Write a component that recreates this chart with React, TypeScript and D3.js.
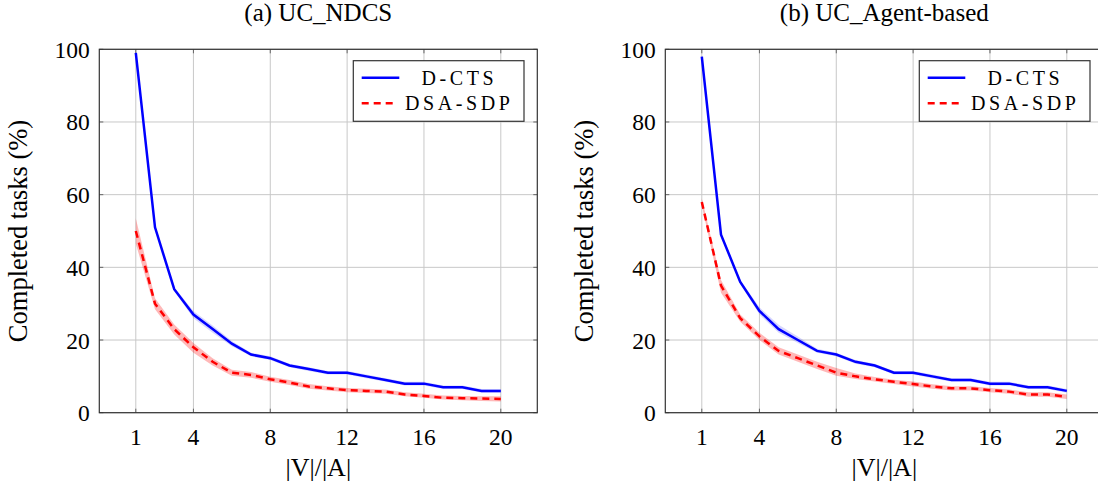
import React, {useRef, useEffect} from 'react'
import * as d3 from 'd3'

// x values |V|/|A|
const xs = [1,2,3,4,5,6,7,8,9,10,11,12,13,14,15,16,17,18,19,20]
const xTicks = [1,4,8,12,16,20]
const yTicks = [0,20,40,60,80,100]

// (a) UC_NDCS
const aDcts   = [99,51,34,27,23,19,16,15,13,12,11,11,10,9,8,8,7,7,6,6]
const aDctsLo = [99,50.5,33.5,26,22,18.3,15.5,14.5,12.5,11.5,10.5,10.5,9.5,8.5,7.5,7.5,6.5,6.5,5.5,5.5]
const aDctsHi = [99,51.5,34.5,28,24,19.7,16.5,15.5,13.5,12.5,11.5,11.5,10.5,9.5,8.5,8.5,7.5,7.5,6.5,6.5]
const aDsa    = [50,30,23,18,14,11,10.4,9.2,8.3,7.2,6.7,6.2,6,5.8,5,4.6,4.1,4,3.9,3.8]
const aDsaLo  = [46.5,28.5,21.5,16.5,13,10.2,9.6,8.5,7.6,6.6,6.1,5.6,5.4,5.2,4.5,4.1,3.6,3.4,3.2,3.1]
const aDsaHi  = [53.5,31.5,24.3,19.2,15,11.8,11.2,9.9,9,7.9,7.3,6.8,6.6,6.4,5.6,5.2,4.7,4.6,4.5,4.5]

// (b) UC_Agent-based
const bDcts   = [98,49,36,28,23,20,17,16,14,13,11,11,10,9,9,8,8,7,7,6]
const bDctsLo = [98,48.5,35.5,27,22,19.2,16.5,15.5,13.5,12.5,10.5,10.5,9.5,8.5,8.5,7.5,7.5,6.5,6.5,5.5]
const bDctsHi = [98,49.5,36.5,29,24.2,21,17.6,16.5,14.5,13.5,11.5,11.5,10.5,9.5,9.5,8.5,8.5,7.5,7.5,6.5]
const bDsa    = [58,35,26,21,17,15,13,11,10,9.2,8.5,7.9,7.2,6.7,6.7,6.2,5.8,5,5,4.4]
const bDsaLo  = [57,33,25,20,16,14,12,10.2,9.3,8.6,7.9,7.2,6.6,6.1,6.1,5.6,5.2,4.4,4.4,3.8]
const bDsaHi  = [59,36.5,27,22,18,16,14,12.3,10.8,9.8,9.1,8.6,7.8,7.3,7.3,6.8,6.4,5.6,5.6,5]

const seriesNames = ['D-CTS', 'DSA-SDP']
const panelTitles = ['(a) UC_NDCS', '(b) UC_Agent-based']

const panels = [
	{title: panelTitles[0], dcts: aDcts, dctsLo: aDctsLo, dctsHi: aDctsHi, dsa: aDsa, dsaLo: aDsaLo, dsaHi: aDsaHi},
	{title: panelTitles[1], dcts: bDcts, dctsLo: bDctsLo, dctsHi: bDctsHi, dsa: bDsa, dsaLo: bDsaLo, dsaHi: bDsaHi},
]

const layout = {width: 1098, height: 489, plotW: 438, top: 49.3, bottom: 412.7, lefts: [99.3, 665.3]}
const font = "'Liberation Serif', serif"

const Panel = ({p, left}: any) => {
	const ref = useRef<SVGGElement>(null)

	useEffect(() => {
		const g = d3.select(ref.current)
		g.selectAll('*').remove()

		const x = d3.scaleLinear().domain([-0.9, 21.9]).range([0, layout.plotW])
		const y = d3.scaleLinear().domain([0, 100]).range([layout.bottom - layout.top, 0])
		const h = layout.bottom - layout.top
		const w = layout.plotW

		// grid
		g.selectAll('.gx').data(xTicks).join('line')
			.attr('x1', d => x(d)).attr('x2', d => x(d)).attr('y1', 0).attr('y2', h)
			.attr('stroke', '#c8c8c8').attr('stroke-width', 1)
		g.selectAll('.gy').data(yTicks).join('line')
			.attr('y1', d => y(d)).attr('y2', d => y(d)).attr('x1', 0).attr('x2', w)
			.attr('stroke', '#c8c8c8').attr('stroke-width', 1)

		// ticks on all sides, pointing in
		const tk = 4
		xTicks.forEach(t => {
			g.append('line').attr('x1', x(t)).attr('x2', x(t)).attr('y1', h).attr('y2', h - tk).attr('stroke', '#666')
			g.append('line').attr('x1', x(t)).attr('x2', x(t)).attr('y1', 0).attr('y2', tk).attr('stroke', '#666')
		})
		yTicks.forEach(t => {
			g.append('line').attr('y1', y(t)).attr('y2', y(t)).attr('x1', 0).attr('x2', tk).attr('stroke', '#666')
			g.append('line').attr('y1', y(t)).attr('y2', y(t)).attr('x1', w).attr('x2', w - tk).attr('stroke', '#666')
		})

		// bands
		const area = (lo: number[], hi: number[]) => d3.area<number>()
			.x(d => x(d)).y0((d, i) => y(lo[i])).y1((d, i) => y(hi[i]))(xs)
		g.append('path').attr('d', area(p.dctsLo, p.dctsHi)).attr('fill', 'rgba(0,0,255,0.16)')
		g.append('path').attr('d', area(p.dsaLo, p.dsaHi)).attr('fill', 'rgba(255,0,0,0.28)')

		// lines
		const line = (vals: number[]) => d3.line<number>().x(d => x(d)).y((d, i) => y(vals[i]))(xs)
		g.append('path').attr('d', line(p.dcts)).attr('fill', 'none')
			.attr('stroke', '#0000ff').attr('stroke-width', 2.5)
		g.append('path').attr('d', line(p.dsa)).attr('fill', 'none')
			.attr('stroke', '#ff0000').attr('stroke-width', 2.5).attr('stroke-dasharray', '7 5')

		// frame
		g.append('rect').attr('width', w).attr('height', h).attr('fill', 'none')
			.attr('stroke', '#333').attr('stroke-width', 1.2)

		// tick labels
		g.selectAll('.xl').data(xTicks).join('text')
			.attr('x', d => x(d)).attr('y', h + 32).attr('text-anchor', 'middle')
			.style('font-family', font).style('font-size', '23.5px').text(d => d)
		g.selectAll('.yl').data(yTicks).join('text')
			.attr('x', -9.5).attr('y', d => y(d) + 8.5).attr('text-anchor', 'end')
			.style('font-family', font).style('font-size', '23.5px').text(d => d)

		// axis labels + title
		g.append('text').attr('x', w / 2).attr('y', h + 63).attr('text-anchor', 'middle')
			.style('font-family', font).style('font-size', '26px').text('|V|/|A|')
		g.append('text').attr('transform', `translate(-72, ${h / 2}) rotate(-90)`)
			.attr('text-anchor', 'middle')
			.style('font-family', font).style('font-size', '26.5px').text('Completed tasks (%)')
		g.append('text').attr('x', w / 2).attr('y', -28.3).attr('text-anchor', 'middle')
			.style('font-family', font).style('font-size', '25px').text(p.title)

		// legend
		const lg = g.append('g').attr('transform', `translate(${w - 184}, 11.4)`)
		lg.append('rect').attr('width', 170.7).attr('height', 60.6)
			.attr('fill', 'white').attr('stroke', '#333').attr('stroke-width', 1.2)
		const styles = [{c: '#0000ff', dash: null}, {c: '#ff0000', dash: '7 5'}]
		seriesNames.forEach((name, i) => {
			const yy = 17 + i * 25.6
			lg.append('line').attr('x1', 8.4).attr('x2', i ? 42 : 46).attr('y1', yy).attr('y2', yy)
				.attr('stroke', styles[i].c).attr('stroke-width', 2.5)
				.attr('stroke-dasharray', styles[i].dash)
			lg.append('text').attr('x', 106).attr('y', yy + 7).attr('text-anchor', 'middle')
				.style('font-family', font).style('font-size', '20px').style('letter-spacing', '3.6px').text(name)
		})
	}, [p])

	return <g ref={ref} transform={`translate(${left}, ${layout.top})`} />
}

export default function App() {
	return (
		<svg width={layout.width} height={layout.height}
			style={{position: 'absolute', left: 0, top: 0, background: 'white'}}>
			{panels.map((p, i) => <Panel key={i} p={p} left={layout.lefts[i]} />)}
		</svg>
	)
}
